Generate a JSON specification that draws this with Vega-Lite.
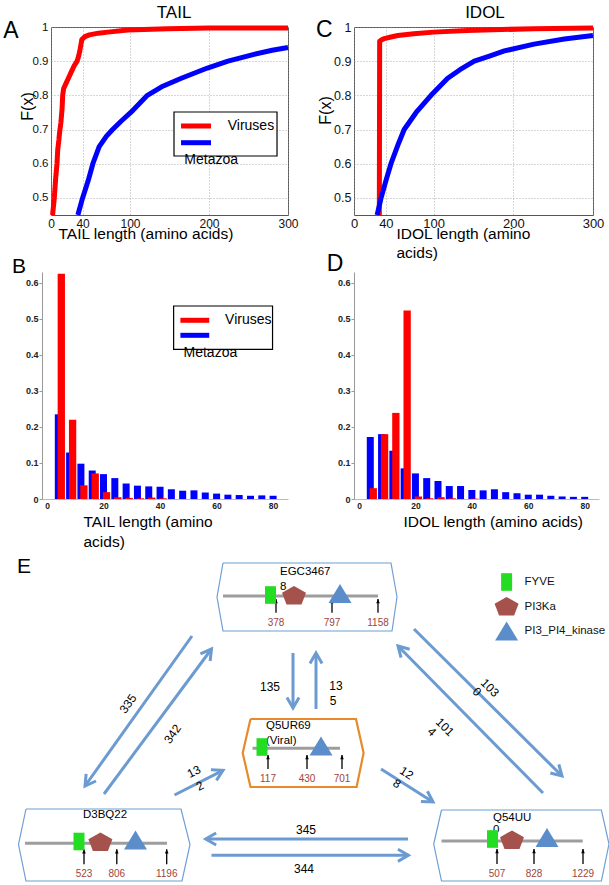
{
"$schema": "https://vega.github.io/schema/vega-lite/v6.json",
"background": "white",
"padding": {"left": 2, "top": 3, "right": 0, "bottom": 0},
"config": {"font": "Liberation Sans", "view": {"stroke": null}},
"datasets": {
"cdf": [
{"metric":"TAIL","group":"Viruses","len":2,"F":0.45},{"metric":"TAIL","group":"Viruses","len":4.2,"F":0.5},{"metric":"TAIL","group":"Viruses","len":6,"F":0.56},{"metric":"TAIL","group":"Viruses","len":7.6,"F":0.6},{"metric":"TAIL","group":"Viruses","len":8.5,"F":0.64},{"metric":"TAIL","group":"Viruses","len":10,"F":0.67},{"metric":"TAIL","group":"Viruses","len":10.8,"F":0.69},{"metric":"TAIL","group":"Viruses","len":12.5,"F":0.72},{"metric":"TAIL","group":"Viruses","len":14,"F":0.76},{"metric":"TAIL","group":"Viruses","len":14.8,"F":0.8},{"metric":"TAIL","group":"Viruses","len":16,"F":0.82},{"metric":"TAIL","group":"Viruses","len":19,"F":0.835},{"metric":"TAIL","group":"Viruses","len":22,"F":0.85},{"metric":"TAIL","group":"Viruses","len":25,"F":0.865},{"metric":"TAIL","group":"Viruses","len":29,"F":0.885},{"metric":"TAIL","group":"Viruses","len":33,"F":0.9},{"metric":"TAIL","group":"Viruses","len":35,"F":0.915},{"metric":"TAIL","group":"Viruses","len":36.5,"F":0.93},{"metric":"TAIL","group":"Viruses","len":38,"F":0.95},{"metric":"TAIL","group":"Viruses","len":39,"F":0.963},{"metric":"TAIL","group":"Viruses","len":43,"F":0.972},{"metric":"TAIL","group":"Viruses","len":48.5,"F":0.977},{"metric":"TAIL","group":"Viruses","len":60,"F":0.982},{"metric":"TAIL","group":"Viruses","len":72,"F":0.985},{"metric":"TAIL","group":"Viruses","len":97,"F":0.991},{"metric":"TAIL","group":"Viruses","len":148,"F":0.995},{"metric":"TAIL","group":"Viruses","len":200,"F":0.997},{"metric":"TAIL","group":"Viruses","len":300,"F":0.997},
{"metric":"TAIL","group":"Metazoa","len":34,"F":0.45},{"metric":"TAIL","group":"Metazoa","len":40,"F":0.5},{"metric":"TAIL","group":"Metazoa","len":47,"F":0.55},{"metric":"TAIL","group":"Metazoa","len":53,"F":0.6},{"metric":"TAIL","group":"Metazoa","len":61,"F":0.65},{"metric":"TAIL","group":"Metazoa","len":70,"F":0.68},{"metric":"TAIL","group":"Metazoa","len":78,"F":0.7},{"metric":"TAIL","group":"Metazoa","len":89,"F":0.725},{"metric":"TAIL","group":"Metazoa","len":101,"F":0.75},{"metric":"TAIL","group":"Metazoa","len":122,"F":0.8},{"metric":"TAIL","group":"Metazoa","len":140,"F":0.825},{"metric":"TAIL","group":"Metazoa","len":165,"F":0.85},{"metric":"TAIL","group":"Metazoa","len":198,"F":0.88},{"metric":"TAIL","group":"Metazoa","len":224,"F":0.9},{"metric":"TAIL","group":"Metazoa","len":257,"F":0.92},{"metric":"TAIL","group":"Metazoa","len":280,"F":0.932},{"metric":"TAIL","group":"Metazoa","len":300,"F":0.94},
{"metric":"IDOL","group":"Viruses","len":31.8,"F":0.45},{"metric":"IDOL","group":"Viruses","len":32.2,"F":0.958},{"metric":"IDOL","group":"Viruses","len":35,"F":0.963},{"metric":"IDOL","group":"Viruses","len":38,"F":0.966},{"metric":"IDOL","group":"Viruses","len":45,"F":0.97},{"metric":"IDOL","group":"Viruses","len":55,"F":0.975},{"metric":"IDOL","group":"Viruses","len":75,"F":0.98},{"metric":"IDOL","group":"Viruses","len":100,"F":0.985},{"metric":"IDOL","group":"Viruses","len":142,"F":0.99},{"metric":"IDOL","group":"Viruses","len":226,"F":0.995},{"metric":"IDOL","group":"Viruses","len":300,"F":0.997},
{"metric":"IDOL","group":"Metazoa","len":29,"F":0.45},{"metric":"IDOL","group":"Metazoa","len":34,"F":0.5},{"metric":"IDOL","group":"Metazoa","len":40,"F":0.55},{"metric":"IDOL","group":"Metazoa","len":46.4,"F":0.6},{"metric":"IDOL","group":"Metazoa","len":56,"F":0.66},{"metric":"IDOL","group":"Metazoa","len":63,"F":0.7},{"metric":"IDOL","group":"Metazoa","len":78,"F":0.75},{"metric":"IDOL","group":"Metazoa","len":96.7,"F":0.8},{"metric":"IDOL","group":"Metazoa","len":117.6,"F":0.85},{"metric":"IDOL","group":"Metazoa","len":133,"F":0.875},{"metric":"IDOL","group":"Metazoa","len":151,"F":0.9},{"metric":"IDOL","group":"Metazoa","len":170,"F":0.915},{"metric":"IDOL","group":"Metazoa","len":188.7,"F":0.93},{"metric":"IDOL","group":"Metazoa","len":226,"F":0.95},{"metric":"IDOL","group":"Metazoa","len":264,"F":0.965},{"metric":"IDOL","group":"Metazoa","len":300,"F":0.975}
],
"hist": [
{"metric":"TAIL","group":"Viruses","bin":4,"frac":0.625},{"metric":"TAIL","group":"Viruses","bin":8,"frac":0.22},{"metric":"TAIL","group":"Viruses","bin":12,"frac":0.038},{"metric":"TAIL","group":"Viruses","bin":16,"frac":0.071},{"metric":"TAIL","group":"Viruses","bin":20,"frac":0.019},{"metric":"TAIL","group":"Viruses","bin":24,"frac":0.005},{"metric":"TAIL","group":"Viruses","bin":28,"frac":0.003},{"metric":"TAIL","group":"Viruses","bin":32,"frac":0.002},{"metric":"TAIL","group":"Viruses","bin":36,"frac":0.004},{"metric":"TAIL","group":"Viruses","bin":40,"frac":0.002},
{"metric":"TAIL","group":"Metazoa","bin":4,"frac":0.235},{"metric":"TAIL","group":"Metazoa","bin":8,"frac":0.129},{"metric":"TAIL","group":"Metazoa","bin":12,"frac":0.098},{"metric":"TAIL","group":"Metazoa","bin":16,"frac":0.079},{"metric":"TAIL","group":"Metazoa","bin":20,"frac":0.069},{"metric":"TAIL","group":"Metazoa","bin":24,"frac":0.058},{"metric":"TAIL","group":"Metazoa","bin":28,"frac":0.043},{"metric":"TAIL","group":"Metazoa","bin":32,"frac":0.037},{"metric":"TAIL","group":"Metazoa","bin":36,"frac":0.035},{"metric":"TAIL","group":"Metazoa","bin":40,"frac":0.034},{"metric":"TAIL","group":"Metazoa","bin":44,"frac":0.027},{"metric":"TAIL","group":"Metazoa","bin":48,"frac":0.023},{"metric":"TAIL","group":"Metazoa","bin":52,"frac":0.024},{"metric":"TAIL","group":"Metazoa","bin":56,"frac":0.018},{"metric":"TAIL","group":"Metazoa","bin":60,"frac":0.015},{"metric":"TAIL","group":"Metazoa","bin":64,"frac":0.012},{"metric":"TAIL","group":"Metazoa","bin":68,"frac":0.011},{"metric":"TAIL","group":"Metazoa","bin":72,"frac":0.009},{"metric":"TAIL","group":"Metazoa","bin":76,"frac":0.01},{"metric":"TAIL","group":"Metazoa","bin":80,"frac":0.009},
{"metric":"IDOL","group":"Viruses","bin":4,"frac":0.03},{"metric":"IDOL","group":"Viruses","bin":8,"frac":0.18},{"metric":"IDOL","group":"Viruses","bin":12,"frac":0.239},{"metric":"IDOL","group":"Viruses","bin":16,"frac":0.523},{"metric":"IDOL","group":"Viruses","bin":20,"frac":0.007},{"metric":"IDOL","group":"Viruses","bin":24,"frac":0.002},{"metric":"IDOL","group":"Viruses","bin":28,"frac":0.005},{"metric":"IDOL","group":"Viruses","bin":32,"frac":0.002},{"metric":"IDOL","group":"Viruses","bin":40,"frac":0.001},
{"metric":"IDOL","group":"Metazoa","bin":4,"frac":0.172},{"metric":"IDOL","group":"Metazoa","bin":8,"frac":0.18},{"metric":"IDOL","group":"Metazoa","bin":12,"frac":0.134},{"metric":"IDOL","group":"Metazoa","bin":16,"frac":0.085},{"metric":"IDOL","group":"Metazoa","bin":20,"frac":0.071},{"metric":"IDOL","group":"Metazoa","bin":24,"frac":0.058},{"metric":"IDOL","group":"Metazoa","bin":28,"frac":0.05},{"metric":"IDOL","group":"Metazoa","bin":32,"frac":0.036},{"metric":"IDOL","group":"Metazoa","bin":36,"frac":0.036},{"metric":"IDOL","group":"Metazoa","bin":40,"frac":0.025},{"metric":"IDOL","group":"Metazoa","bin":44,"frac":0.024},{"metric":"IDOL","group":"Metazoa","bin":48,"frac":0.027},{"metric":"IDOL","group":"Metazoa","bin":52,"frac":0.019},{"metric":"IDOL","group":"Metazoa","bin":56,"frac":0.016},{"metric":"IDOL","group":"Metazoa","bin":60,"frac":0.012},{"metric":"IDOL","group":"Metazoa","bin":64,"frac":0.012},{"metric":"IDOL","group":"Metazoa","bin":68,"frac":0.009},{"metric":"IDOL","group":"Metazoa","bin":72,"frac":0.007},{"metric":"IDOL","group":"Metazoa","bin":76,"frac":0.006},{"metric":"IDOL","group":"Metazoa","bin":80,"frac":0.006}
],
"boxes": [
{"protein":"EGC34678","kind":"host","ord":0,"x":222,"y":562},{"protein":"EGC34678","kind":"host","ord":1,"x":390,"y":562},{"protein":"EGC34678","kind":"host","ord":2,"x":396,"y":596},{"protein":"EGC34678","kind":"host","ord":3,"x":391,"y":630},{"protein":"EGC34678","kind":"host","ord":4,"x":222,"y":630},{"protein":"EGC34678","kind":"host","ord":5,"x":216,"y":596},{"protein":"EGC34678","kind":"host","ord":6,"x":222,"y":562},
{"protein":"Q5UR69","kind":"viral","ord":0,"x":249.5,"y":718},{"protein":"Q5UR69","kind":"viral","ord":1,"x":355,"y":718},{"protein":"Q5UR69","kind":"viral","ord":2,"x":362.6,"y":752},{"protein":"Q5UR69","kind":"viral","ord":3,"x":355.6,"y":786},{"protein":"Q5UR69","kind":"viral","ord":4,"x":249.5,"y":786},{"protein":"Q5UR69","kind":"viral","ord":5,"x":241.7,"y":752},{"protein":"Q5UR69","kind":"viral","ord":6,"x":249.5,"y":718},
{"protein":"D3BQ22","kind":"host","ord":0,"x":25,"y":808},{"protein":"D3BQ22","kind":"host","ord":1,"x":180,"y":808},{"protein":"D3BQ22","kind":"host","ord":2,"x":189,"y":843.5},{"protein":"D3BQ22","kind":"host","ord":3,"x":181,"y":880},{"protein":"D3BQ22","kind":"host","ord":4,"x":25,"y":880},{"protein":"D3BQ22","kind":"host","ord":5,"x":17.5,"y":843.5},{"protein":"D3BQ22","kind":"host","ord":6,"x":25,"y":808},
{"protein":"Q54UU0","kind":"host","ord":0,"x":440.5,"y":809},{"protein":"Q54UU0","kind":"host","ord":1,"x":600.4,"y":809},{"protein":"Q54UU0","kind":"host","ord":2,"x":608,"y":843},{"protein":"Q54UU0","kind":"host","ord":3,"x":600.4,"y":880},{"protein":"Q54UU0","kind":"host","ord":4,"x":440.5,"y":880},{"protein":"Q54UU0","kind":"host","ord":5,"x":432.7,"y":843},{"protein":"Q54UU0","kind":"host","ord":6,"x":440.5,"y":809}
],
"backbones": [
{"protein":"EGC34678","x":222,"x2":377,"y":595},{"protein":"Q5UR69","x":251.5,"x2":339,"y":747.3},{"protein":"D3BQ22","x":24,"x2":166,"y":842.3},{"protein":"Q54UU0","x":440.5,"x2":581.7,"y":840}
],
"domains": [
{"protein":"EGC34678","domain":"FYVE","x":269.5,"y":594},{"protein":"EGC34678","domain":"PI3Ka","x":293,"y":594.5},{"protein":"EGC34678","domain":"PI3_PI4_kinase","x":339,"y":592.5},
{"protein":"Q5UR69","domain":"FYVE","x":261,"y":746},{"protein":"Q5UR69","domain":"PI3_PI4_kinase","x":320,"y":745},
{"protein":"D3BQ22","domain":"FYVE","x":78,"y":840.5},{"protein":"D3BQ22","domain":"PI3Ka","x":99.4,"y":841},{"protein":"D3BQ22","domain":"PI3_PI4_kinase","x":134.5,"y":839},
{"protein":"Q54UU0","domain":"FYVE","x":491.5,"y":838},{"protein":"Q54UU0","domain":"PI3Ka","x":511,"y":839},{"protein":"Q54UU0","domain":"PI3_PI4_kinase","x":546,"y":836.5}
],
"sites": [
{"protein":"EGC34678","residue":378,"x":275,"y":611.7,"y2":598},{"protein":"EGC34678","residue":797,"x":331,"y":611.7,"y2":598},{"protein":"EGC34678","residue":1158,"x":377,"y":611.7,"y2":598},
{"protein":"Q5UR69","residue":117,"x":267,"y":768,"y2":754},{"protein":"Q5UR69","residue":430,"x":306,"y":768,"y2":754},{"protein":"Q5UR69","residue":701,"x":341,"y":768,"y2":754},
{"protein":"D3BQ22","residue":523,"x":83,"y":863.3,"y2":848.3},{"protein":"D3BQ22","residue":806,"x":115.8,"y":863.3,"y2":848.3},{"protein":"D3BQ22","residue":1196,"x":165.7,"y":863.3,"y2":848.3},
{"protein":"Q54UU0","residue":507,"x":496,"y":863,"y2":848},{"protein":"Q54UU0","residue":828,"x":533,"y":863,"y2":848},{"protein":"Q54UU0","residue":1229,"x":582,"y":863,"y2":848}
],
"names": [
{"protein":"EGC34678","text":"EGC3467","x":279,"y":571},{"protein":"EGC34678","text":"8","x":279,"y":586},
{"protein":"Q5UR69","text":"Q5UR69","x":265,"y":725.3},{"protein":"Q5UR69","text":"(Viral)","x":265,"y":740},
{"protein":"D3BQ22","text":"D3BQ22","x":82,"y":814},
{"protein":"Q54UU0","text":"Q54UU","x":492,"y":817.3},{"protein":"Q54UU0","text":"0","x":492,"y":829.3}
],
"links": [
{"link":"EGC-D3B","x":191,"y":635,"x2":84,"y2":785},
{"link":"D3B-EGC","x":103,"y":793,"x2":210.5,"y2":648},
{"link":"EGC-Q5U","x":292,"y":652,"x2":292,"y2":707},
{"link":"Q5U-EGC","x":315,"y":708,"x2":315,"y2":652},
{"link":"EGC-Q54","x":413,"y":628,"x2":561,"y2":775},
{"link":"Q54-EGC","x":542,"y":792,"x2":397,"y2":645},
{"link":"D3B-Q5U","x":173.5,"y":794,"x2":222,"y2":769.3},
{"link":"Q5U-Q54","x":380,"y":768,"x2":432,"y2":801},
{"link":"Q54-D3B","x":407,"y":838,"x2":204.7,"y2":838},
{"link":"D3B-Q54","x":210.5,"y":854.3,"x2":407.4,"y2":854.3}
],
"linkLabels": [
{"link":"EGC-D3B","text":"335","x":127,"y":702.7},
{"link":"D3B-EGC","text":"342","x":171.5,"y":733},
{"link":"EGC-Q5U","text":"135","x":269,"y":686},
{"link":"Q5U-EGC","text":"13","x":335,"y":685},
{"link":"Q5U-EGC","text":"5","x":332,"y":700},
{"link":"EGC-Q54","text":"103","x":489,"y":686.7},
{"link":"EGC-Q54","text":"0","x":476,"y":690.7},
{"link":"Q54-EGC","text":"101","x":444,"y":726},
{"link":"Q54-EGC","text":"4","x":431,"y":730.7},
{"link":"D3B-Q5U","text":"13","x":193,"y":770.7},
{"link":"D3B-Q5U","text":"2","x":199,"y":785},
{"link":"Q5U-Q54","text":"12","x":405.5,"y":772},
{"link":"Q5U-Q54","text":"8","x":396,"y":782.7},
{"link":"Q54-D3B","text":"345","x":305,"y":829},
{"link":"D3B-Q54","text":"344","x":303,"y":868}
]
},
"concat": [
 {"width": 237, "height": 188, "view": {"stroke": "#555", "strokeWidth": 1},
  "resolve": {"axis": {"x": "independent", "y": "independent"}},
  "layer": [
   {"data": {"name": "cdf"}, "transform": [{"filter": "datum.metric == 'TAIL'"}], "mark": {"type": "line", "strokeWidth": 5, "strokeCap": "butt", "strokeJoin": "round"},
    "encoding": {
     "x": {"field": "len", "type": "quantitative", "scale": {"domain": [0, 300], "nice": false, "zero": false},
       "axis": {"values": [0, 40, 100, 200, 300], "grid": true, "gridDash": [1, 2], "gridColor": "#999", "gridWidth": 0.8, "ticks": false, "domain": false, "labelFontSize": 12, "labelPadding": 3, "labelColor": "#111", "labelFlush": false, "labelOverlap": false, "title": "TAIL length (amino acids)", "titleFontSize": 15.5, "titleFontWeight": "normal", "titleColor": "#000", "titleX": 7, "titleY": 23.8, "titleAlign": "left", "titleBaseline": "alphabetic"}},
     "y": {"field": "F", "type": "quantitative", "scale": {"domain": [0.45, 1], "nice": false, "zero": false},
       "axis": {"values": [0.5, 0.6, 0.7, 0.8, 0.9, 1], "labelExpr": "datum.value == 1 ? '1' : format(datum.value, '.1f')", "grid": true, "gridDash": [1, 2], "gridColor": "#999", "gridWidth": 0.8, "ticks": false, "domain": false, "labelFontSize": 11.5, "labelPadding": 3, "labelColor": "#111", "labelFlush": false, "labelOverlap": false, "title": "F(x)", "titleFontSize": 16, "titleFontWeight": "normal", "titleColor": "#000", "titleAngle": 270, "titleX": -24, "titleY": 79, "titleAlign": "center", "titleBaseline": "middle"}},
     "color": {"field": "group", "type": "nominal", "scale": {"domain": ["Viruses", "Metazoa"], "range": ["#ff0000", "#0000ff"]}, "legend": null}}},
   {"data": {"values": [{}]}, "mark": {"type": "rect", "fill": "white", "stroke": "black", "strokeWidth": 1.2}, "encoding": {"x": {"datum": 155.7, "axis": null}, "x2": {"datum": 286.1}, "y": {"datum": 0.7513, "axis": null}, "y2": {"datum": 0.6226}}},
   {"data": {"values": [{}]}, "mark": {"type": "rule", "color": "#ff0000", "strokeWidth": 5}, "encoding": {"x": {"datum": 164.6, "axis": null}, "x2": {"datum": 202.5}, "y": {"datum": 0.7104, "axis": null}}},
   {"data": {"values": [{}]}, "mark": {"type": "rule", "color": "#0000ff", "strokeWidth": 5}, "encoding": {"x": {"datum": 164.6, "axis": null}, "x2": {"datum": 202.5}, "y": {"datum": 0.6615, "axis": null}}},
   {"data": {"values": [{}]}, "mark": {"type": "text", "text": "Viruses", "align": "left", "baseline": "middle", "fontSize": 14}, "encoding": {"x": {"datum": 223.7, "axis": null}, "y": {"datum": 0.7104, "axis": null}}},
   {"data": {"values": [{}]}, "mark": {"type": "text", "text": "Metazoa", "align": "left", "baseline": "middle", "fontSize": 14}, "encoding": {"x": {"datum": 168.8, "axis": null}, "y": {"datum": 0.61, "axis": null}}},
   {"data": {"values": [{}]}, "mark": {"type": "text", "text": "A", "align": "center", "baseline": "alphabetic", "fontSize": 23}, "encoding": {"x": {"datum": -50.6, "axis": null}, "y": {"datum": 0.9687, "axis": null}}},
   {"data": {"values": [{}]}, "mark": {"type": "text", "text": "TAIL", "align": "center", "baseline": "alphabetic", "fontSize": 17}, "encoding": {"x": {"datum": 155.7, "axis": null}, "y": {"datum": 1.0272, "axis": null}}}
  ]
 },
 {"width": 66, "height": 10, "data": {"values": []}, "mark": "point", "view": {"stroke": null}},
 {"width": 239, "height": 188, "view": {"stroke": "#555", "strokeWidth": 1},
  "resolve": {"axis": {"x": "independent", "y": "independent"}},
  "layer": [
   {"data": {"name": "cdf"}, "transform": [{"filter": "datum.metric == 'IDOL'"}], "mark": {"type": "line", "strokeWidth": 5, "strokeCap": "butt", "strokeJoin": "round"},
    "encoding": {
     "x": {"field": "len", "type": "quantitative", "scale": {"domain": [0, 300], "nice": false, "zero": false},
       "axis": {"values": [0, 40, 100, 200, 300], "grid": true, "gridDash": [1, 2], "gridColor": "#999", "gridWidth": 0.8, "ticks": false, "domain": false, "labelFontSize": 13, "labelPadding": 2.5, "labelColor": "#111", "labelFlush": false, "labelOverlap": false, "title": ["IDOL length (amino", "acids)"], "titleFontSize": 15.5, "titleFontWeight": "normal", "titleColor": "#000", "titleX": 42, "titleY": 23.8, "titleAlign": "left", "titleBaseline": "alphabetic", "titleLineHeight": 19}},
     "y": {"field": "F", "type": "quantitative", "scale": {"domain": [0.45, 1], "nice": false, "zero": false},
       "axis": {"values": [0.5, 0.6, 0.7, 0.8, 0.9, 1], "labelExpr": "datum.value == 1 ? '1' : format(datum.value, '.1f')", "grid": true, "gridDash": [1, 2], "gridColor": "#999", "gridWidth": 0.8, "ticks": false, "domain": false, "labelFontSize": 12.5, "labelPadding": 3, "labelColor": "#111", "labelFlush": false, "labelOverlap": false, "title": "F(x)", "titleFontSize": 16, "titleFontWeight": "normal", "titleColor": "#000", "titleAngle": 270, "titleX": -29, "titleY": 83, "titleAlign": "center", "titleBaseline": "middle"}},
     "color": {"field": "group", "type": "nominal", "scale": {"domain": ["Viruses", "Metazoa"], "range": ["#ff0000", "#0000ff"]}, "legend": null}}},
   {"data": {"values": [{}]}, "mark": {"type": "text", "text": "C", "align": "center", "baseline": "alphabetic", "fontSize": 23}, "encoding": {"x": {"datum": -37.3, "axis": null}, "y": {"datum": 0.9707, "axis": null}}},
   {"data": {"values": [{}]}, "mark": {"type": "text", "text": "IDOL", "align": "center", "baseline": "alphabetic", "fontSize": 17}, "encoding": {"x": {"datum": 164.4, "axis": null}, "y": {"datum": 1.0272, "axis": null}}}
  ]
 },
 {"width": 237, "height": 227,
  "resolve": {"axis": {"x": "independent", "y": "independent"}},
  "layer": [
   {"data": {"name": "hist"}, "transform": [{"filter": "datum.metric == 'TAIL' && datum.group == 'Metazoa'"}], "mark": {"type": "bar", "size": 7, "color": "#0000ff"},
    "encoding": {
     "x": {"field": "bin", "type": "quantitative", "scale": {"domain": [0, 83.5], "range": [-9, 237], "nice": false, "zero": false},
       "axis": {"values": [0, 20, 40, 60, 80], "format": "d", "ticks": false, "grid": false, "domainColor": "#bbb", "labelFontSize": 8.5, "labelFontWeight": "bold", "labelPadding": 2, "labelColor": "#222", "labelFlush": false, "labelOverlap": false, "title": ["TAIL length (amino", "acids)"], "titleFontSize": 15.5, "titleFontWeight": "normal", "titleColor": "#000", "titleX": 32, "titleY": 27.7, "titleAlign": "left", "titleBaseline": "alphabetic", "titleLineHeight": 19.5}},
     "y": {"field": "frac", "type": "quantitative", "scale": {"domain": [0, 0.63], "nice": false},
       "axis": {"values": [0, 0.1, 0.2, 0.3, 0.4, 0.5, 0.6], "format": ".1~f", "offset": 9, "ticks": true, "tickSize": 3, "tickColor": "#999", "domainColor": "#999", "grid": false, "labelFontSize": 9, "labelFontWeight": "bold", "labelPadding": 1, "labelColor": "#222", "labelFlush": false, "labelOverlap": false, "title": null}}}},
   {"data": {"name": "hist"}, "transform": [{"filter": "datum.metric == 'TAIL' && datum.group == 'Viruses'"}], "mark": {"type": "bar", "size": 7.3, "color": "#ff0000", "xOffset": 3},
    "encoding": {"x": {"field": "bin", "type": "quantitative", "axis": null}, "y": {"field": "frac", "type": "quantitative", "axis": null}}},
   {"data": {"values": [{}]}, "mark": {"type": "rect", "fill": "white", "stroke": "black", "strokeWidth": 1.2}, "encoding": {"x": {"datum": 44.8, "axis": null}, "x2": {"datum": 79.8}, "y": {"datum": 0.5357, "axis": null}, "y2": {"datum": 0.4155}}},
   {"data": {"values": [{}]}, "mark": {"type": "rule", "color": "#ff0000", "strokeWidth": 5}, "encoding": {"x": {"datum": 47.2, "axis": null}, "x2": {"datum": 57.4}, "y": {"datum": 0.496, "axis": null}}},
   {"data": {"values": [{}]}, "mark": {"type": "rule", "color": "#0000ff", "strokeWidth": 5}, "encoding": {"x": {"datum": 47.2, "axis": null}, "x2": {"datum": 57.4}, "y": {"datum": 0.4543, "axis": null}}},
   {"data": {"values": [{}]}, "mark": {"type": "text", "text": "Viruses", "align": "left", "baseline": "middle", "fontSize": 14}, "encoding": {"x": {"datum": 63, "axis": null}, "y": {"datum": 0.496, "axis": null}}},
   {"data": {"values": [{}]}, "mark": {"type": "text", "text": "Metazoa", "align": "left", "baseline": "middle", "fontSize": 14}, "encoding": {"x": {"datum": 48.3, "axis": null}, "y": {"datum": 0.4044, "axis": null}}},
   {"data": {"values": [{}]}, "mark": {"type": "text", "text": "B", "align": "center", "baseline": "alphabetic", "fontSize": 21}, "encoding": {"x": {"datum": -9.95, "axis": null}, "y": {"datum": 0.628, "axis": null}}}
  ]
 },
 {"width": 66, "height": 10, "data": {"values": []}, "mark": "point", "view": {"stroke": null}},
 {"width": 245, "height": 227,
  "resolve": {"axis": {"x": "independent", "y": "independent"}},
  "layer": [
   {"data": {"name": "hist"}, "transform": [{"filter": "datum.metric == 'IDOL' && datum.group == 'Metazoa'"}], "mark": {"type": "bar", "size": 7, "color": "#0000ff"},
    "encoding": {
     "x": {"field": "bin", "type": "quantitative", "scale": {"domain": [0, 83.3], "nice": false, "zero": false},
       "axis": {"values": [0, 20, 40, 60, 80], "format": "d", "ticks": false, "grid": false, "domainColor": "#bbb", "labelFontSize": 8.5, "labelFontWeight": "bold", "labelPadding": 2, "labelColor": "#222", "labelFlush": false, "labelOverlap": false, "title": "IDOL length (amino acids)", "titleFontSize": 15.5, "titleFontWeight": "normal", "titleColor": "#000", "titleX": 49, "titleY": 27.7, "titleAlign": "left", "titleBaseline": "alphabetic"}},
     "y": {"field": "frac", "type": "quantitative", "scale": {"domain": [0, 0.63], "nice": false},
       "axis": {"values": [0, 0.1, 0.2, 0.3, 0.4, 0.5, 0.6], "format": ".1~f", "ticks": true, "tickSize": 3, "tickColor": "#999", "domainColor": "#999", "grid": false, "labelFontSize": 9, "labelFontWeight": "bold", "labelPadding": 1, "labelColor": "#222", "labelFlush": false, "labelOverlap": false, "title": null}}}},
   {"data": {"name": "hist"}, "transform": [{"filter": "datum.metric == 'IDOL' && datum.group == 'Viruses'"}], "mark": {"type": "bar", "size": 7.3, "color": "#ff0000", "xOffset": 3},
    "encoding": {"x": {"field": "bin", "type": "quantitative", "axis": null}, "y": {"field": "frac", "type": "quantitative", "axis": null}}},
   {"data": {"values": [{}]}, "mark": {"type": "text", "text": "D", "align": "center", "baseline": "alphabetic", "fontSize": 23}, "encoding": {"x": {"datum": -8.5, "axis": null}, "y": {"datum": 0.633, "axis": null}}}
  ]
 },
 {"width": 237, "height": 330, "view": {"stroke": null},
  "layer": [
   {"encoding": {
     "x": {"field": "x", "type": "quantitative", "scale": {"domain": [50, 287], "nice": false, "zero": false}, "axis": null},
     "y": {"field": "y", "type": "quantitative", "scale": {"domain": [555, 885], "nice": false, "zero": false, "reverse": true}, "axis": null}},
    "layer": [
     {"data": {"name": "boxes"}, "transform": [{"filter": "datum.kind == 'host'"}], "mark": {"type": "line", "color": "#6f9fd4", "strokeWidth": 1.2}, "encoding": {"order": {"field": "ord", "type": "quantitative"}, "detail": {"field": "protein"}}},
     {"data": {"name": "boxes"}, "transform": [{"filter": "datum.kind == 'viral'"}], "mark": {"type": "line", "color": "#e8892b", "strokeWidth": 2.2}, "encoding": {"order": {"field": "ord", "type": "quantitative"}, "detail": {"field": "protein"}}},
     {"data": {"name": "backbones"}, "mark": {"type": "rule", "color": "#9d9d9d", "strokeWidth": 3}, "encoding": {"x2": {"field": "x2"}}},
     {"data": {"name": "sites"}, "mark": {"type": "rule", "color": "#000000", "strokeWidth": 1.3}, "encoding": {"y2": {"field": "y2"}}},
     {"data": {"name": "sites"}, "mark": {"type": "point", "shape": "M0,0L0.6,1.4L-0.6,1.4Z", "size": 36, "filled": true, "color": "#000000", "opacity": 1, "strokeWidth": 0}, "encoding": {"y": {"field": "y2", "type": "quantitative", "axis": null}}},
     {"data": {"name": "sites"}, "mark": {"type": "text", "dy": 10, "fontSize": 10, "color": "#a0443c", "baseline": "middle", "align": "center"}, "encoding": {"text": {"field": "residue", "type": "quantitative", "format": "d"}}},
     {"data": {"name": "names"}, "mark": {"type": "text", "align": "left", "baseline": "middle", "fontSize": 11.5, "color": "#000000"}, "encoding": {"text": {"field": "text"}}},
     {"data": {"name": "domains"}, "mark": {"type": "point", "filled": true, "opacity": 1, "size": 400, "strokeWidth": 0},
      "encoding": {
       "shape": {"field": "domain", "type": "nominal", "scale": {"domain": ["FYVE", "PI3Ka", "PI3_PI4_kinase"], "range": ["M-0.55,-0.88L0.55,-0.88L0.55,0.88L-0.55,0.88Z", "M0,-0.95L1.2,-0.28L0.75,0.9L-0.75,0.9L-1.2,-0.28Z", "M0,-0.95L1.15,0.95L-1.15,0.95Z"]},
         "legend": {"title": null, "orient": "none", "legendX": 445.6, "legendY": 16, "symbolSize": 400, "labelFontSize": 11.5, "labelOffset": 8, "rowPadding": 5.5, "symbolStrokeWidth": 0, "padding": 0, "labelColor": "#111", "labelLimit": 300, "symbolOpacity": 1}},
       "color": {"field": "domain", "type": "nominal", "scale": {"domain": ["FYVE", "PI3Ka", "PI3_PI4_kinase"], "range": ["#22dd22", "#a4524b", "#5b8dcb"]},
         "legend": {"title": null, "orient": "none", "legendX": 445.6, "legendY": 16, "symbolSize": 400, "labelFontSize": 11.5, "labelOffset": 8, "rowPadding": 5.5, "symbolStrokeWidth": 0, "padding": 0, "labelColor": "#111", "labelLimit": 300, "symbolOpacity": 1}}
      }},
     {"data": {"name": "links"}, "mark": {"type": "rule", "color": "#6b9bd1", "strokeWidth": 3}, "encoding": {"x2": {"field": "x2"}, "y2": {"field": "y2"}}},
     {"data": {"name": "links"}, "transform": [{"calculate": "atan2(datum.y2 - datum.y, datum.x2 - datum.x) * 180 / PI + 90", "as": "heading"}],
      "mark": {"type": "point", "shape": "M-0.55,0.95L0,0L0.55,0.95", "size": 484, "filled": false, "color": "#6b9bd1", "strokeWidth": 3, "opacity": 1},
      "encoding": {"x": {"field": "x2", "type": "quantitative", "axis": null}, "y": {"field": "y2", "type": "quantitative", "axis": null}, "angle": {"field": "heading", "type": "quantitative", "scale": null}}},
     {"data": {"name": "linkLabels"}, "transform": [{"filter": {"field": "link", "oneOf": ["EGC-D3B", "D3B-EGC"]}}], "mark": {"type": "text", "angle": -54.5, "fontSize": 12, "align": "center", "baseline": "middle"}, "encoding": {"text": {"field": "text"}}},
     {"data": {"name": "linkLabels"}, "transform": [{"filter": {"field": "link", "oneOf": ["EGC-Q5U", "Q5U-EGC", "Q54-D3B", "D3B-Q54"]}}], "mark": {"type": "text", "fontSize": 12, "align": "center", "baseline": "middle"}, "encoding": {"text": {"field": "text"}}},
     {"data": {"name": "linkLabels"}, "transform": [{"filter": {"field": "link", "oneOf": ["EGC-Q54", "Q54-EGC"]}}], "mark": {"type": "text", "angle": 45, "fontSize": 12, "align": "center", "baseline": "middle"}, "encoding": {"text": {"field": "text"}}},
     {"data": {"name": "linkLabels"}, "transform": [{"filter": {"field": "link", "oneOf": ["D3B-Q5U"]}}], "mark": {"type": "text", "angle": -27, "fontSize": 12, "align": "center", "baseline": "middle"}, "encoding": {"text": {"field": "text"}}},
     {"data": {"name": "linkLabels"}, "transform": [{"filter": {"field": "link", "oneOf": ["Q5U-Q54"]}}], "mark": {"type": "text", "angle": 32, "fontSize": 12, "align": "center", "baseline": "middle"}, "encoding": {"text": {"field": "text"}}}
    ]},
   {"data": {"values": [{}]}, "mark": {"type": "text", "text": "E", "align": "center", "baseline": "alphabetic", "fontSize": 21}, "encoding": {"x": {"datum": 23, "axis": null}, "y": {"datum": 571.7, "axis": null}}}
  ]
 }
],
"columns": 3,
"spacing": {"row": 57, "column": 0},
"align": "each",
"bounds": "flush",
"resolve": {"scale": {"color": "independent", "shape": "independent"}, "legend": {"color": "independent", "shape": "independent"}}
}
